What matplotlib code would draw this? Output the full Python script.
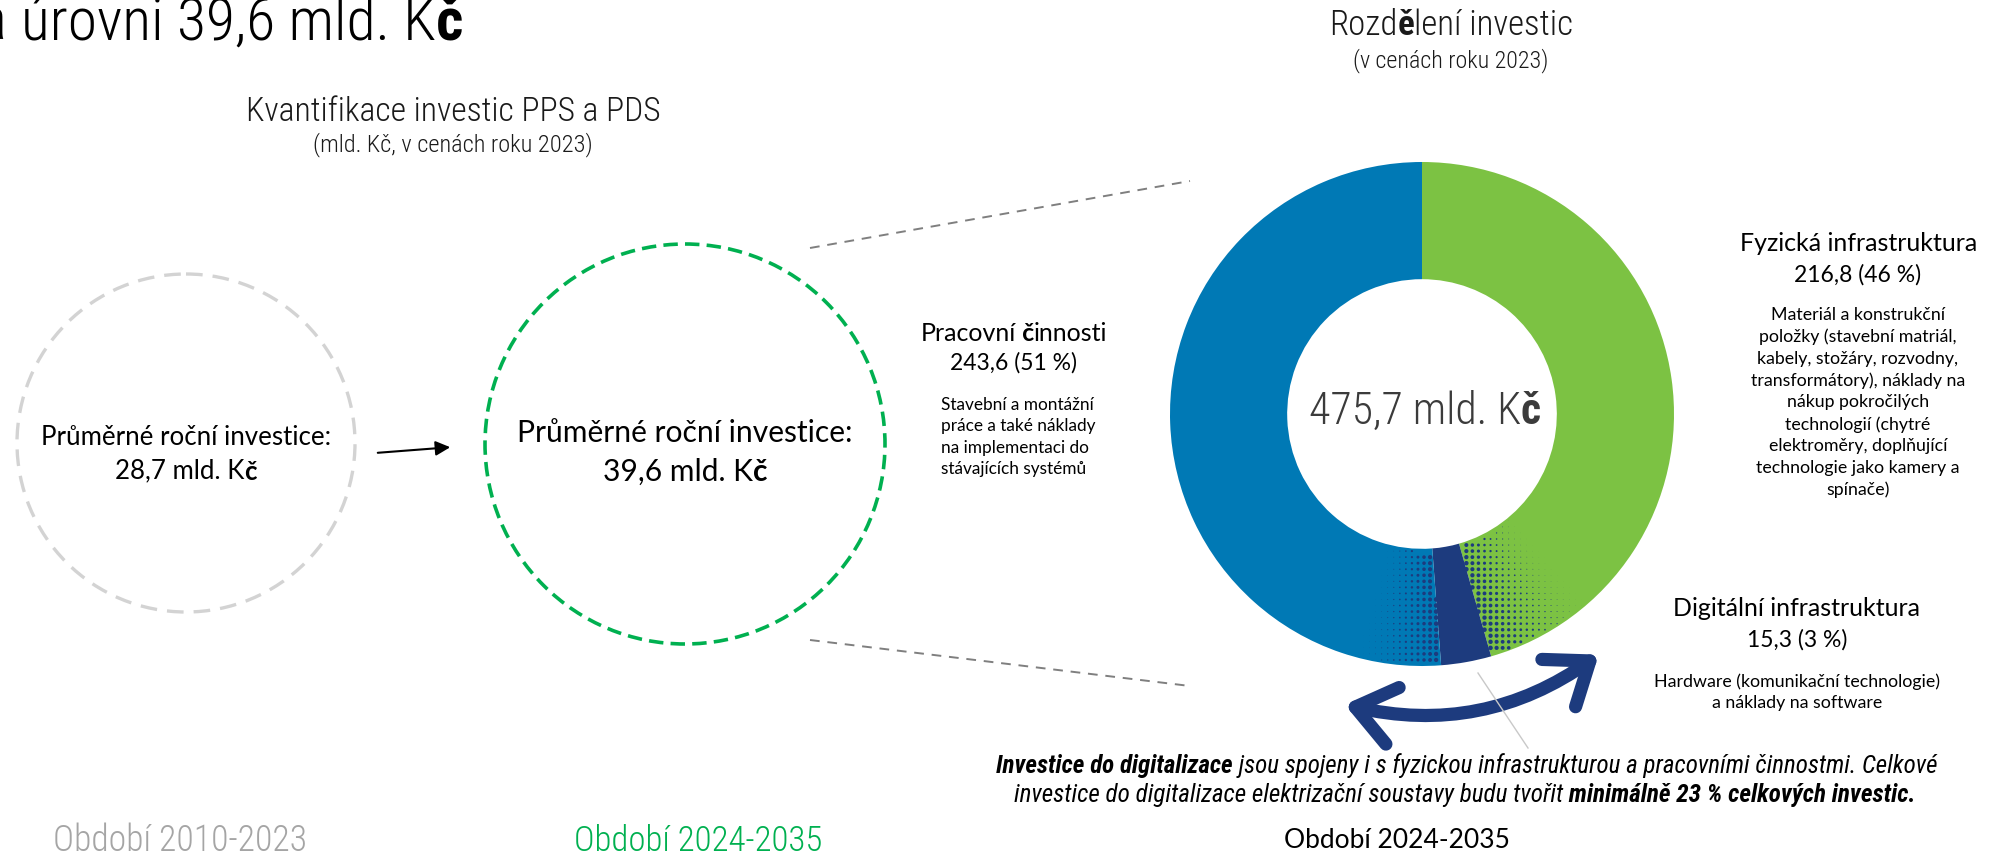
import numpy as np
import matplotlib
matplotlib.use('Agg')
import matplotlib.pyplot as plt
from matplotlib import font_manager
from matplotlib.patches import Circle, FancyArrowPatch


def pick_narrow():
    fl = font_manager.fontManager.ttflist
    names = {f.name for f in fl}
    for n in ['Liberation Sans Narrow', 'Arial Narrow', 'Roboto Condensed', 'Noto Sans Condensed',
              'Open Sans Condensed', 'DejaVu Sans Condensed']:
        if n in names:
            return n, 'normal'
    for fam in ['Noto Sans', 'Open Sans', 'DejaVu Sans', 'Roboto', 'Liberation Sans']:
        for f in fl:
            if f.name == fam and 'condensed' in str(f.stretch):
                return fam, 'condensed'
    return ('Lato' if 'Lato' in names else 'DejaVu Sans'), 'normal'


NARROW, NSTRETCH = pick_narrow()
SANS = 'Lato'

# ---- data ----
periods = ['Období 2010-2023', 'Období 2024-2035']
avg_invest = [28.7, 39.6]
categories = ['Fyzická infrastruktura', 'Digitální infrastruktura', 'Pracovní činnosti']
values = [216.8, 15.3, 243.6]
shares = [46, 3, 51]
total = 475.7
desc_phys = ('Materiál a konstrukční\npoložky (stavební matriál,\nkabely, stožáry, rozvodny,\n'
             'transformátory), náklady na\nnákup pokročilých\ntechnologií (chytré\n'
             'elektroměry, doplňující\ntechnologie jako kamery a\nspínače)')
desc_dig = 'Hardware (komunikační technologie)\na náklady na software'
desc_work = 'Stavební a montážní\npráce a také náklady\nna implementaci do\nstávajících systémů'

GREEN = '#7CC243'
BLUE = '#0079B5'
NAVY = '#1D3B7E'
COLORS = [GREEN, NAVY, BLUE]

W, H = 1989, 855
fig = plt.figure(figsize=(W / 100, H / 100), dpi=100)
bg = fig.add_axes([0, 0, 1, 1])
bg.set_xlim(0, W)
bg.set_ylim(H, 0)
bg.axis('off')

runs = []


def rich(x, y, parts, size, family=None, color='black', ha='center', va='center',
         target_w=None, fit_from=0):
    if family is None:
        family, stretch = NARROW, NSTRETCH
    else:
        stretch = 'normal'
    arts = []
    for i, (s, w, st) in enumerate(parts):
        kw = dict(fontsize=size, family=family, color=color, fontweight=w, fontstyle=st,
                  fontstretch=stretch)
        if i == 0:
            t = bg.text(x, y, s, ha='left', va=va, **kw)
        else:
            t = bg.annotate(s, xy=(1, 0), xycoords=arts[-1], ha='left', va='bottom', **kw)
        arts.append(t)
    runs.append(dict(arts=arts, x=x, ha=ha, target=target_w, fit_from=fit_from))


def fmt(v):
    return f'{v:.1f}'.replace('.', ',')


N, L, B, I = 'normal', 'light', 'bold', 'italic'

# ---- top-left (cut) headline ----
rich(463, 40, [('na ', L, N), ('úrovni 39,6 mld. K', L, N), ('č', B, N)], 37,
     ha='right', va='baseline', target_w=443, fit_from=1)

# ---- left part: circles ----
rich(453, 112, [('Kvantifikace investic PPS a PDS', L, N)], 23, color='#1a1a1a', target_w=416)
rich(453, 145, [('(mld. Kč, v cenách roku 2023)', L, N)], 16, color='#1a1a1a', target_w=280)

bg.add_patch(Circle((186, 443), 169, fill=False, ec='#D3D3D3', lw=2.4, ls=(0, (5, 3))))
bg.add_patch(Circle((685, 444), 200, fill=False, ec='#00B050', lw=2.6, ls=(0, (4, 2))))

rich(186, 437, [('Průměrné roční investice:', N, N)], 18.6, SANS)
rich(186, 471, [(fmt(avg_invest[0]) + ' mld. K', N, N), ('č', B, N)], 18.6, SANS)
rich(685, 433, [('Průměrné roční investice:', N, N)], 21.6, SANS)
rich(685, 472, [(fmt(avg_invest[1]) + ' mld. K', N, N), ('č', B, N)], 21.6, SANS)

bg.annotate('', xy=(453, 447), xytext=(375, 453),
            arrowprops=dict(arrowstyle='-|>', color='black', lw=1.5, mutation_scale=22))

rich(180, 841, [(periods[0], L, N)], 26, color='#A5A5A5', target_w=254)
rich(698, 841, [(periods[1], L, N)], 26, color='#00B050', target_w=249)

# connector lines
bg.plot([810, 1190], [248, 181], color='#7F7F7F', lw=1.4, ls=(0, (5, 4)))
bg.plot([810, 1190], [640, 686], color='#7F7F7F', lw=1.4, ls=(0, (5, 4)))

# ---- donut ----
cx, cy, R = 1422, 414, 252
dax = fig.add_axes([(cx - R) / W, (H - cy - R) / H, 2 * R / W, 2 * R / H])
dax.pie(values, colors=COLORS, startangle=90, counterclock=False,
        wedgeprops=dict(width=0.465, linewidth=0))
dax.set_xlim(-1, 1)
dax.set_ylim(-1, 1)
dax.set_aspect('auto')
dax.axis('off')

# halftone texture next to the digital slice
bounds = np.cumsum([0] + values) / total * 360
step = 0.024
gx, gy = np.meshgrid(np.arange(-1, 1, step), np.arange(-1, 1, step))
gr = np.hypot(gx, gy)
gt = np.degrees(np.arctan2(gx, gy)) % 360
ring = (gr > 0.545) & (gr < 0.99)
t_blue = (gt - bounds[2]) / 20
t_green = (bounds[1] - gt) / 26
for t in (t_blue, t_green):
    m = ring & (t > 0) & (t < 1)
    d = 4.6 * (1 - t[m]) ** 1.3
    dax.scatter(gx[m], gy[m], s=(0.72 * d) ** 2, color=NAVY, lw=0, zorder=3)

rich(1425, 412, [(fmt(total) + ' mld. K', L, N), ('č', B, N)], 31, color='#3b3b3b', target_w=231)
rich(1451, 25, [('Rozd', L, N), ('ě', B, N), ('lení investic', L, N)], 22, color='#1a1a1a',
     target_w=244)
rich(1451, 61, [('(v cenách roku 2023)', L, N)], 16, color='#1a1a1a', target_w=195)

# curved double arrow and thin line
bg.plot([1478, 1528], [673, 748], color='#C8C8C8', lw=1)
bg.add_patch(FancyArrowPatch((1342, 704), (1601, 653), connectionstyle='arc3,rad=0.23',
                             arrowstyle='<->,head_length=0.5,head_width=0.38', mutation_scale=55,
                             color=NAVY, lw=9.5, capstyle='round', joinstyle='round'))

# ---- labels ----
rich(1014, 333, [('Pracovní', N, N), (' č', B, N), ('innosti', N, N)], 18, SANS)
bg.text(1014, 363, f'{fmt(values[2])} ({shares[2]} %)', fontsize=16.5, family=SANS,
        ha='center', va='center')
bg.text(941, 397, desc_work, fontsize=12.4, family=SANS, ha='left', va='top', linespacing=1.42)

bg.text(1859, 243, categories[0], fontsize=18, family=SANS, ha='center', va='center')
bg.text(1858, 275, f'{fmt(values[0])} ({shares[0]} %)', fontsize=16.5, family=SANS,
        ha='center', va='center')
bg.text(1858, 307, desc_phys, fontsize=12.8, family=SANS, ha='center', va='top',
        multialignment='center', linespacing=1.42)

bg.text(1797, 608, categories[1], fontsize=18, family=SANS, ha='center', va='center')
bg.text(1797, 640, f'{fmt(values[1])} ({shares[1]} %)', fontsize=16.5, family=SANS,
        ha='center', va='center')
bg.text(1797, 673, desc_dig, fontsize=12.8, family=SANS, ha='center', va='top',
        multialignment='center', linespacing=1.42)

# ---- bottom note ----
rich(1467, 766, [('Investice do digitalizace', B, I),
                 (' jsou spojeny i s fyzickou infrastrukturou a pracovními činnostmi. Celkové', N, I)],
     15.5, target_w=938)
rich(1465, 795, [('investice do digitalizace elektrizační soustavy budu tvořit', N, I),
                 (' minimálně 23 % celkových investic.', B, I)], 15.5, target_w=900)
rich(1397, 840, [(periods[1], N, N)], 19, SANS)

# fit widths of narrow texts, then align runs
fig.canvas.draw()
for r in runs:
    if r['target']:
        a = r['arts'][r['fit_from']:]
        w = a[-1].get_window_extent().x1 - a[0].get_window_extent().x0
        k = r['target'] / w
        for t in r['arts']:
            t.set_fontsize(t.get_fontsize() * k)
fig.canvas.draw()
for r in runs:
    arts = r['arts']
    w = arts[-1].get_window_extent().x1 - arts[0].get_window_extent().x0
    shift = {'left': 0, 'center': w / 2, 'right': w}[r['ha']]
    arts[0].set_x(r['x'] - shift)

fig.savefig('out.png', dpi=100)
